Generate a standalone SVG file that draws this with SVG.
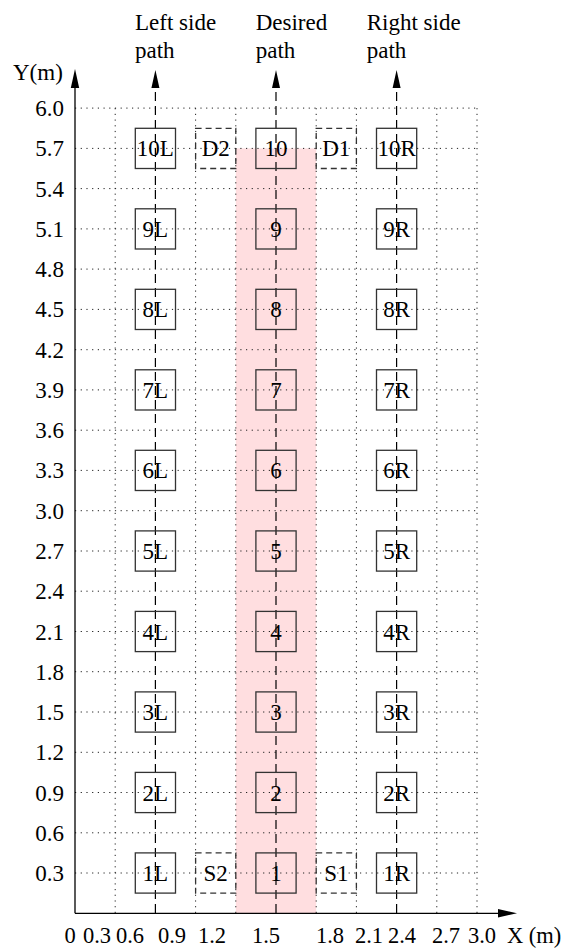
<svg xmlns="http://www.w3.org/2000/svg" width="572" height="949" viewBox="0 0 572 949">
<style>
text{font-family:"Liberation Serif","Times New Roman",serif;font-size:23px;fill:#000}
.lbl{text-anchor:middle;font-size:22.5px}
.xm{font-size:22.5px}
.yl{text-anchor:end}
.grid{stroke:#222;stroke-width:1;stroke-dasharray:1.2,4.5;fill:none}
.path{stroke:#000;stroke-width:1.2;stroke-dasharray:9,5;fill:none}
.axis{stroke:#000;stroke-width:1.3;fill:none}
.head{fill:#000;stroke:none}
.box rect{fill:none;stroke:#333;stroke-width:1.3}
.dbox rect{fill:none;stroke:#333;stroke-width:1.3;stroke-dasharray:6,4}
.box text,.dbox text{text-anchor:middle}
</style>
<rect x="235.8" y="148.4" width="80.4" height="764.9" fill="#ffdee0"/>
<g id="grid">
<path class="grid" d="M75,873H477M75,832.8H477M75,792.5H477M75,752.3H477M75,712H477M75,671.7H477M75,631.5H477M75,591.2H477M75,551H477M75,510.7H477M75,470.4H477M75,430.2H477M75,389.9H477M75,349.7H477M75,309.4H477M75,269.1H477M75,228.9H477M75,188.6H477M75,148.4H477M75,108.1H477"/>
<path class="grid" d="M115.2,913V108.1M195.6,913V108.1M235.8,913V108.1M316.2,913V108.1M356.4,913V108.1M436.8,913V108.1M477,913V108.1"/>
</g>
<g id="connectors">
<line class="axis" x1="75" y1="913.3" x2="75" y2="85"/>
<path class="head" d="M75,69 L70.8,88 L79.2,88 Z"/>
<line class="axis" x1="75" y1="913.3" x2="500" y2="913.3"/>
<path class="head" d="M517,913.3 L498,909.1 L498,917.5 Z"/>
<line class="path" x1="155.4" y1="913" x2="155.4" y2="87"/>
<line class="path" x1="276" y1="913" x2="276" y2="87"/>
<line class="path" x1="396.6" y1="913" x2="396.6" y2="87"/>
<path class="head" d="M155.4,70 L151.4,88 L159.4,88 Z M276,70 L272,88 L280,88 Z M396.6,70 L392.6,88 L400.6,88 Z"/>
</g>
<g id="labels">
<text x="135" y="29.5">Left side</text>
<text x="135" y="58">path</text>
<text x="255.7" y="29.5">Desired</text>
<text x="255.7" y="58">path</text>
<text x="366.7" y="29.5">Right side</text>
<text x="366.7" y="58">path</text>
<text x="13" y="80">Y(m)</text>
<text class="yl" x="64" y="116">6.0</text>
<text class="yl" x="64" y="156.4">5.7</text>
<text class="yl" x="64" y="196.6">5.4</text>
<text class="yl" x="64" y="236.9">5.1</text>
<text class="yl" x="64" y="277.1">4.8</text>
<text class="yl" x="64" y="317.4">4.5</text>
<text class="yl" x="64" y="357.7">4.2</text>
<text class="yl" x="64" y="397.9">3.9</text>
<text class="yl" x="64" y="438.2">3.6</text>
<text class="yl" x="64" y="478.4">3.3</text>
<text class="yl" x="64" y="518.7">3.0</text>
<text class="yl" x="64" y="559">2.7</text>
<text class="yl" x="64" y="599.2">2.4</text>
<text class="yl" x="64" y="639.5">2.1</text>
<text class="yl" x="64" y="679.7">1.8</text>
<text class="yl" x="64" y="720">1.5</text>
<text class="yl" x="64" y="760.3">1.2</text>
<text class="yl" x="64" y="800.5">0.9</text>
<text class="yl" x="64" y="840.8">0.6</text>
<text class="yl" x="64" y="881">0.3</text>
<text class="lbl" x="70" y="943">0</text>
<text class="lbl" x="97" y="943">0.3</text>
<text class="lbl" x="130" y="943">0.6</text>
<text class="lbl" x="172" y="943">0.9</text>
<text class="lbl" x="212" y="943">1.2</text>
<text class="lbl" x="266" y="943">1.5</text>
<text class="lbl" x="330" y="943">1.8</text>
<text class="lbl" x="369" y="943">2.1</text>
<text class="lbl" x="402" y="943">2.4</text>
<text class="lbl" x="446" y="943">2.7</text>
<text class="lbl" x="482" y="943">3.0</text>
<text class="xm" x="507" y="943">X (m)</text>
</g>
<g id="n10L" class="box" transform="translate(155.4,148.4)"><rect x="-20.1" y="-20.1" width="40.2" height="40.2"/><text y="8">10L</text></g>
<g id="n9L" class="box" transform="translate(155.4,228.9)"><rect x="-20.1" y="-20.1" width="40.2" height="40.2"/><text y="8">9L</text></g>
<g id="n8L" class="box" transform="translate(155.4,309.4)"><rect x="-20.1" y="-20.1" width="40.2" height="40.2"/><text y="8">8L</text></g>
<g id="n7L" class="box" transform="translate(155.4,389.9)"><rect x="-20.1" y="-20.1" width="40.2" height="40.2"/><text y="8">7L</text></g>
<g id="n6L" class="box" transform="translate(155.4,470.4)"><rect x="-20.1" y="-20.1" width="40.2" height="40.2"/><text y="8">6L</text></g>
<g id="n5L" class="box" transform="translate(155.4,551)"><rect x="-20.1" y="-20.1" width="40.2" height="40.2"/><text y="8">5L</text></g>
<g id="n4L" class="box" transform="translate(155.4,631.5)"><rect x="-20.1" y="-20.1" width="40.2" height="40.2"/><text y="8">4L</text></g>
<g id="n3L" class="box" transform="translate(155.4,712)"><rect x="-20.1" y="-20.1" width="40.2" height="40.2"/><text y="8">3L</text></g>
<g id="n2L" class="box" transform="translate(155.4,792.5)"><rect x="-20.1" y="-20.1" width="40.2" height="40.2"/><text y="8">2L</text></g>
<g id="n1L" class="box" transform="translate(155.4,873)"><rect x="-20.1" y="-20.1" width="40.2" height="40.2"/><text y="8">1L</text></g>
<g id="n10" class="box" transform="translate(276,148.4)"><rect x="-20.1" y="-20.1" width="40.2" height="40.2"/><text y="8">10</text></g>
<g id="n9" class="box" transform="translate(276,228.9)"><rect x="-20.1" y="-20.1" width="40.2" height="40.2"/><text y="8">9</text></g>
<g id="n8" class="box" transform="translate(276,309.4)"><rect x="-20.1" y="-20.1" width="40.2" height="40.2"/><text y="8">8</text></g>
<g id="n7" class="box" transform="translate(276,389.9)"><rect x="-20.1" y="-20.1" width="40.2" height="40.2"/><text y="8">7</text></g>
<g id="n6" class="box" transform="translate(276,470.4)"><rect x="-20.1" y="-20.1" width="40.2" height="40.2"/><text y="8">6</text></g>
<g id="n5" class="box" transform="translate(276,551)"><rect x="-20.1" y="-20.1" width="40.2" height="40.2"/><text y="8">5</text></g>
<g id="n4" class="box" transform="translate(276,631.5)"><rect x="-20.1" y="-20.1" width="40.2" height="40.2"/><text y="8">4</text></g>
<g id="n3" class="box" transform="translate(276,712)"><rect x="-20.1" y="-20.1" width="40.2" height="40.2"/><text y="8">3</text></g>
<g id="n2" class="box" transform="translate(276,792.5)"><rect x="-20.1" y="-20.1" width="40.2" height="40.2"/><text y="8">2</text></g>
<g id="n1" class="box" transform="translate(276,873)"><rect x="-20.1" y="-20.1" width="40.2" height="40.2"/><text y="8">1</text></g>
<g id="n10R" class="box" transform="translate(396.6,148.4)"><rect x="-20.1" y="-20.1" width="40.2" height="40.2"/><text y="8">10R</text></g>
<g id="n9R" class="box" transform="translate(396.6,228.9)"><rect x="-20.1" y="-20.1" width="40.2" height="40.2"/><text y="8">9R</text></g>
<g id="n8R" class="box" transform="translate(396.6,309.4)"><rect x="-20.1" y="-20.1" width="40.2" height="40.2"/><text y="8">8R</text></g>
<g id="n7R" class="box" transform="translate(396.6,389.9)"><rect x="-20.1" y="-20.1" width="40.2" height="40.2"/><text y="8">7R</text></g>
<g id="n6R" class="box" transform="translate(396.6,470.4)"><rect x="-20.1" y="-20.1" width="40.2" height="40.2"/><text y="8">6R</text></g>
<g id="n5R" class="box" transform="translate(396.6,551)"><rect x="-20.1" y="-20.1" width="40.2" height="40.2"/><text y="8">5R</text></g>
<g id="n4R" class="box" transform="translate(396.6,631.5)"><rect x="-20.1" y="-20.1" width="40.2" height="40.2"/><text y="8">4R</text></g>
<g id="n3R" class="box" transform="translate(396.6,712)"><rect x="-20.1" y="-20.1" width="40.2" height="40.2"/><text y="8">3R</text></g>
<g id="n2R" class="box" transform="translate(396.6,792.5)"><rect x="-20.1" y="-20.1" width="40.2" height="40.2"/><text y="8">2R</text></g>
<g id="n1R" class="box" transform="translate(396.6,873)"><rect x="-20.1" y="-20.1" width="40.2" height="40.2"/><text y="8">1R</text></g>
<g id="nD2" class="dbox" transform="translate(215.7,148.4)"><rect x="-20.1" y="-20.1" width="40.2" height="40.2"/><text y="8">D2</text></g>
<g id="nD1" class="dbox" transform="translate(336.3,148.4)"><rect x="-20.1" y="-20.1" width="40.2" height="40.2"/><text y="8">D1</text></g>
<g id="nS2" class="dbox" transform="translate(215.7,873)"><rect x="-20.1" y="-20.1" width="40.2" height="40.2"/><text y="8">S2</text></g>
<g id="nS1" class="dbox" transform="translate(336.3,873)"><rect x="-20.1" y="-20.1" width="40.2" height="40.2"/><text y="8">S1</text></g>
</svg>
